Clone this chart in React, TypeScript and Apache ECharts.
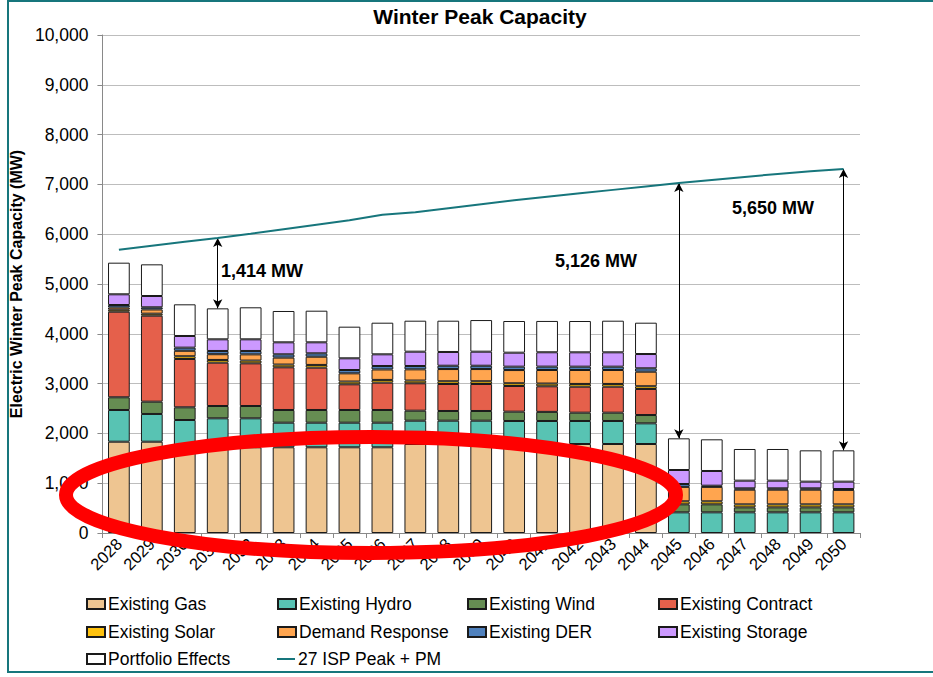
import React, { useEffect, useRef } from "react";
import * as echarts from "echarts";

const years = ["2028","2029","2030","2031","2032","2033","2034","2035","2036","2037","2038","2039","2040","2041","2042","2043","2044","2045","2046","2047","2048","2049","2050"];

const gas =      [1833,1833,1721,1721,1721,1721,1721,1721,1721,1787,1787,1787,1787,1787,1787,1787,1787,0,0,0,0,0,0];
const hydro =    [637,557,548,582,582,494,494,494,494,468,468,468,462,462,462,462,415,415,415,415,415,415,415];
const wind =     [255,247,255,247,247,255,255,255,255,201,195,195,187,183,167,167,167,161,161,100,100,100,100];
const contract = [1719,1727,970,870,857,857,850,516,549,550,542,542,516,514,522,522,523,0,0,0,0,0,0];
const solar =    [40,40,55,55,55,55,55,55,55,55,55,55,55,55,55,55,55,60,60,60,60,60,60];
const demandResponse = [45,85,110,115,125,140,165,165,210,225,245,245,265,272,280,280,292,290,290,295,295,295,290];
const der =      [49,43,63,65,68,66,68,67,69,67,67,67,68,68,67,67,68,58,24,27,27,27,18];
const storage =  [215,227,234,234,234,241,221,235,235,288,276,282,281,288,288,288,287,281,295,154,154,134,148];
const portfolio = [635,636,636,622,643,629,635,635,635,622,628,635,636,629,629,635,629,636,636,636,636,629,629];
const ispPeak =  [5690,5770,5850,5925,6010,6100,6190,6280,6390,6440,6520,6600,6680,6750,6820,6890,6960,7027,7090,7150,7210,7265,7310];

const yTicks = [0, 1000, 2000, 3000, 4000, 5000, 6000, 7000, 8000, 9000, 10000];

const gapYears = ["2031", "2045", "2050"];
const gapLabels = ["1,414 MW", "5,126 MW", "5,650 MW"];

const FONT = "'Liberation Sans', Arial, Helvetica, sans-serif";

const stacks = [
  { name: "Existing Gas", data: gas, color: "#EEC591" },
  { name: "Existing Hydro", data: hydro, color: "#58C3B3" },
  { name: "Existing Wind", data: wind, color: "#668D52" },
  { name: "Existing Contract", data: contract, color: "#E5604B" },
  { name: "Existing Solar", data: solar, color: "#FFC20E" },
  { name: "Demand Response", data: demandResponse, color: "#FFA54F" },
  { name: "Existing DER", data: der, color: "#4F81BD" },
  { name: "Existing Storage", data: storage, color: "#CC99FF" },
  { name: "Portfolio Effects", data: portfolio, color: "#FFFFFF" },
];
const lineName = "27 ISP Peak + PM";
const lineColor = "#17767C";

const legendLayout: [string, number, number][] = [
  ["Existing Gas", 86, 604],
  ["Existing Hydro", 277, 604],
  ["Existing Wind", 467, 604],
  ["Existing Contract", 658, 604],
  ["Existing Solar", 86, 632],
  ["Demand Response", 277, 632],
  ["Existing DER", 467, 632],
  ["Existing Storage", 658, 632],
  ["Portfolio Effects", 86, 659],
  [lineName, 277, 659],
];

const labelPos: [number, number][] = [
  [221, 271],
  [555, 261],
  [732, 208],
];

export default function App() {
  const ref = useRef<HTMLDivElement>(null);
  useEffect(() => {
    if (!ref.current) return;
    const chart = echarts.init(ref.current, null, { renderer: "svg" });
    const totals = years.map((_, i) => stacks.reduce((s, st) => s + st.data[i], 0));

    const barSeries = stacks.map((st) => ({
      name: st.name,
      type: "bar",
      stack: "cap",
      barWidth: "66%",
      data: st.data.map((v) => (v === 0 ? null : v)),
      itemStyle: { color: st.color, borderColor: "#1a1a1a", borderWidth: 1 },
      emphasis: { disabled: true },
    }));

    const markData = gapYears.map((y) => {
      const i = years.indexOf(y);
      return [
        { coord: [y, ispPeak[i]] },
        { coord: [y, totals[i]] },
      ];
    });

    const legends = legendLayout.map(([name, x, y]) => {
      const isLine = name === lineName;
      return {
        data: isLine
          ? [{ name, icon: "rect", itemStyle: { color: lineColor, borderWidth: 0 } }]
          : [{ name, icon: "rect" }],
        left: x,
        top: y - 9,
        padding: 0,
        itemWidth: 18,
        itemHeight: isLine ? 2 : 10,
        itemGap: 0,
        selectedMode: false,
        textStyle: { fontFamily: FONT, fontSize: 17.5, color: "#000", padding: [0, 0, 0, -2] },
      };
    });

    chart.setOption({
      animation: false,
      backgroundColor: "#fff",
      grid: { left: 97, right: 73, top: 35, bottom: 144, containLabel: false },
      legend: legends,
      xAxis: {
        type: "category",
        data: years,
        axisLine: { lineStyle: { color: "#898989" } },
        axisTick: { show: true, alignWithLabel: false, length: 5, lineStyle: { color: "#898989" } },
        axisLabel: { rotate: 45, interval: 0, fontSize: 16.5, color: "#000", fontFamily: FONT, margin: 8 },
      },
      yAxis: {
        type: "value",
        min: yTicks[0],
        max: yTicks[yTicks.length - 1],
        interval: 1000,
        name: "Electric Winter Peak Capacity (MW)",
        nameLocation: "middle",
        nameRotate: 90,
        nameGap: 74,
        nameTextStyle: { fontFamily: FONT, fontSize: 16, fontWeight: "bold", color: "#000" },
        axisLine: { show: true, lineStyle: { color: "#898989" } },
        axisTick: { show: true, length: 5, lineStyle: { color: "#898989" } },
        splitLine: { lineStyle: { color: "#BDBDBD", width: 1 } },
        axisLabel: {
          fontSize: 17.5,
          color: "#000",
          fontFamily: FONT,
          margin: 14,
          formatter: (v: number) => v.toLocaleString("en-US"),
        },
      },
      series: [
        ...barSeries,
        {
          name: lineName,
          type: "line",
          data: ispPeak,
          symbol: "none",
          lineStyle: { color: lineColor, width: 2 },
          itemStyle: { color: lineColor },
          z: 5,
          markLine: {
            silent: true,
            symbol: ["arrow", "arrow"],
            symbolSize: [7, 9],
            label: { show: false },
            lineStyle: { color: "#000", width: 1, type: "solid" },
            data: markData,
          },
        },
      ],
      graphic: [
        {
          type: "rect",
          shape: { x: 8, y: 1, width: 940, height: 671 },
          style: { fill: "none", stroke: "#17767C", lineWidth: 2 },
          silent: true,
          z: 100,
        },
        {
          type: "text",
          x: 480,
          y: 16,
          style: {
            text: "Winter Peak Capacity",
            fontFamily: FONT,
            fontSize: 21,
            fontWeight: "bold",
            fill: "#000",
            align: "center",
            verticalAlign: "middle",
          },
        },
        ...gapLabels.map((t, i) => ({
          type: "text",
          x: labelPos[i][0],
          y: labelPos[i][1],
          style: {
            text: t,
            fontFamily: FONT,
            fontSize: 18,
            fontWeight: "bold",
            fill: "#000",
            align: "left",
            verticalAlign: "middle",
          },
        })),
        {
          type: "ellipse",
          shape: { cx: 371, cy: 495, rx: 305, ry: 58 },
          style: { fill: "none", stroke: "#FF0000", lineWidth: 14 },
          silent: true,
          z: 50,
        },
      ],
    });
    return () => chart.dispose();
  }, []);
  return (
    <div
      ref={ref}
      style={{ position: "absolute", left: 0, top: 0, width: 933, height: 677 }}
    />
  );
}
